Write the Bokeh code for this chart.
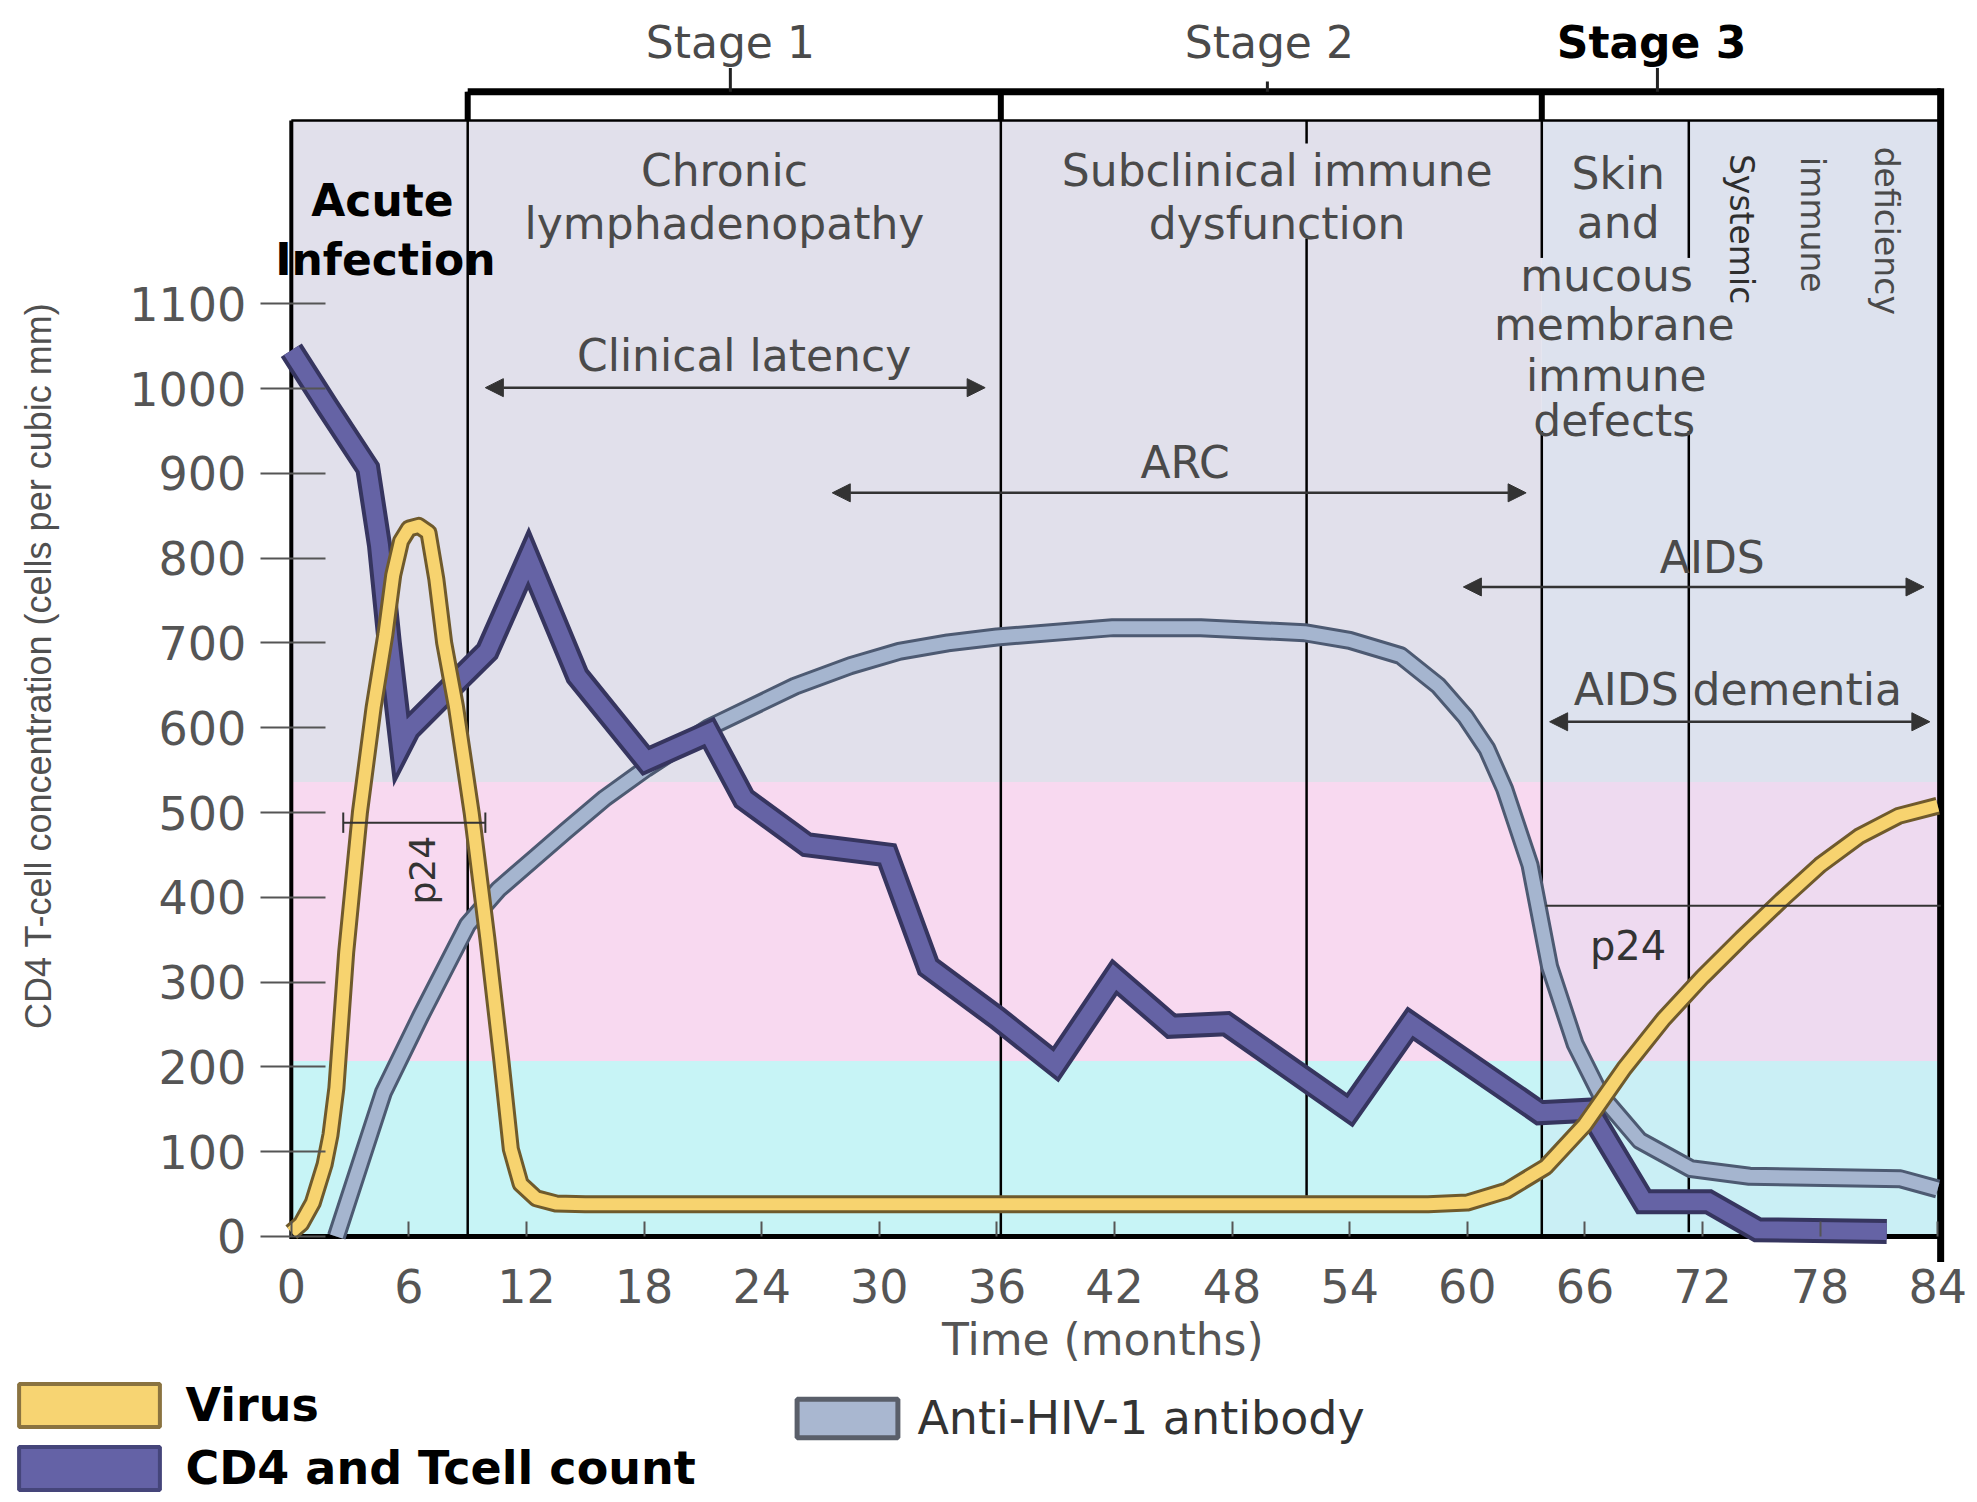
import math
from bokeh.plotting import figure
from bokeh.models import Range1d, FixedTicker, Label, Arrow, NormalHead, Legend, LegendItem
from bokeh.embed import file_html
from bokeh.resources import INLINE

# ---------------- data ----------------
virus_month = [0, 0.5, 1.1, 1.7, 2.0, 2.3, 2.8, 3.5, 4.2, 4.8, 5.2, 5.6, 6.0, 6.5, 7.0, 7.4,
               7.8, 8.4, 9.2, 10.0, 10.7, 11.2, 11.7, 12.5, 13.5, 15, 18, 24, 36, 48, 58,
               60, 62, 64, 66, 68, 70, 72, 74, 76, 78, 80, 82, 84]
virus_value = [5, 15, 40, 85, 120, 175, 335, 500, 624, 710, 780, 820, 835, 838, 830, 775,
               700, 625, 500, 352, 211, 103, 62, 45, 39, 38, 38, 38, 38, 38, 38,
               40, 54, 82, 132, 198, 256, 306, 352, 396, 438, 472, 496, 508]

cd4_month = [0, 1.8, 3.9, 4.5, 5.0, 5.6, 6.0, 8.6, 10.0, 12.1, 14.6, 18.1, 21.3, 23.1, 26.3,
             30.4, 32.5, 36.0, 39.0, 42.0, 44.9, 47.7, 54.0, 57.1, 63.7, 66.2, 69.0, 72.3,
             74.8, 81.4]
cd4_value = [1045, 980, 906, 815, 700, 580, 598, 658, 690, 800, 661, 561, 594, 516, 462,
             450, 318, 258, 203, 306, 248, 251, 149, 251, 146, 149, 41, 41,
             8, 6]

antibody_month = [2.3, 3.5, 4.7, 6.6, 9.0, 10.6, 12.5, 14.0, 16.0, 18.1, 21.3, 25.7, 28.5,
                  31.0, 33.5, 36.0, 41.9, 46.4, 51.7, 54.0, 56.6, 58.5, 59.9, 61.0, 61.9,
                  63.2, 64.2, 65.5, 66.8, 68.8, 71.4, 74.4, 82.1, 84.0]
antibody_value = [0, 85, 170, 260, 368, 410, 448, 478, 517, 552, 600, 649, 673,
                  690, 700, 707, 718, 718, 712, 703, 685, 650, 613, 575, 528,
                  438, 318, 227, 167, 113, 80, 71, 68, 56]

x_ticks = [0, 6, 12, 18, 24, 30, 36, 42, 48, 54, 60, 66, 72, 78, 84]
y_ticks = [0, 100, 200, 300, 400, 500, 600, 700, 800, 900, 1000, 1100]
band_edges = [0, 207, 536, 1316]          # cyan / pink / grey zones (cells per mm3)
stage_labels = ["Stage 1", "Stage 2", "Stage 3"]
stage_edges = [9.0, 36.2, 63.8, 84.15]     # months
series_names = ["Virus", "CD4 and Tcell count", "Anti-HIV-1 antibody"]

# ---------------- figure: the frame covers the whole page ----------------
p = figure(width=1977, height=1502, x_range=Range1d(-14.837, 86.03), y_range=Range1d(-313.7, 1434),
           output_backend="svg", toolbar_location=None,
           min_border_left=0, min_border_right=0, min_border_top=20, min_border_bottom=0)
p.grid.visible = False
p.outline_line_color = None
p.background_fill_color = "white"
p.border_fill_color = "white"

# x axis, pinned at y = 0
p.xaxis.fixed_location = 0
p.xaxis.ticker = FixedTicker(ticks=x_ticks)
p.xaxis.axis_line_color = None
p.xaxis.major_tick_in = 15
p.xaxis.major_tick_out = 0
p.xaxis.major_tick_line_color = "#555555"
p.xaxis.major_tick_line_width = 2
p.xaxis.minor_tick_line_color = None
p.xaxis.major_label_text_font = "DejaVu Sans"
p.xaxis.major_label_text_font_size = "46px"
p.xaxis.major_label_text_color = "#555555"
p.xaxis.major_label_standoff = 33

# y axis, pinned at x = 0
p.yaxis.fixed_location = 0
p.yaxis.ticker = FixedTicker(ticks=y_ticks)
p.yaxis.axis_line_color = None
p.yaxis.major_tick_in = 34
p.yaxis.major_tick_out = 31
p.yaxis.major_tick_line_color = "#555555"
p.yaxis.major_tick_line_width = 2
p.yaxis.minor_tick_line_color = None
p.yaxis.major_label_text_font = "DejaVu Sans"
p.yaxis.major_label_text_font_size = "46px"
p.yaxis.major_label_text_color = "#555555"
p.yaxis.major_label_standoff = 14

# background zones
left_cols = ["#c7f4f6", "#f8d9f0", "#e1e0eb"]
right_cols = ["#caeff5", "#eedaf0", "#dde2ee"]
p.quad(left=[0] * 3, right=[stage_edges[2]] * 3, bottom=band_edges[:-1], top=band_edges[1:],
       fill_color=left_cols, line_color=None)
p.quad(left=[stage_edges[2]] * 3, right=[stage_edges[3]] * 3, bottom=band_edges[:-1],
       top=band_edges[1:], fill_color=right_cols, line_color=None)

top_bg = band_edges[-1]
box_top = 1350

# thin phase lines (with gaps where text sits)
seg_x = [9.0, 36.2, 51.8, 51.8, 63.8, 63.8, 71.3, 71.3]
seg_y0 = [0, 0, 48, 1289, 0, 1154, 5, 1154]
seg_y1 = [box_top, box_top, 1177, top_bg, 950, box_top, 950, top_bg]
p.segment(x0=seg_x, y0=seg_y0, x1=seg_x, y1=seg_y1, line_color="black", line_width=2.5)

# axis lines and top border of the background
p.segment(x0=[0], y0=[-3], x1=[0], y1=[top_bg], line_color="black", line_width=4)
p.segment(x0=[0], y0=[0], x1=[stage_edges[3]], y1=[0], line_color="black", line_width=5)
p.segment(x0=[0], y0=[top_bg], x1=[stage_edges[3]], y1=[top_bg], line_color="black", line_width=2.5)

# stage box
p.segment(x0=[stage_edges[0]], y0=[box_top], x1=[stage_edges[3]], y1=[box_top],
          line_color="black", line_width=7)
p.segment(x0=stage_edges[:3], y0=[top_bg] * 3, x1=stage_edges[:3], y1=[box_top] * 3,
          line_color="black", line_width=6)
p.segment(x0=[stage_edges[3]], y0=[box_top + 4], x1=[stage_edges[3]], y1=[-30],
          line_color="black", line_width=7)
p.segment(x0=[22.4, 49.8, 69.7], y0=[box_top] * 3, x1=[22.4, 49.8, 69.7],
          y1=[1378, 1362, 1378], line_color="#222222", line_width=3)

# curves: dark outline + coloured core
def band(xs, ys, outline, fill, w_out, w_in, join):
    p.line(xs, ys, line_color=outline, line_width=w_out, line_join=join)
    p.line(xs, ys, line_color=fill, line_width=w_in, line_join=join)

band(antibody_month, antibody_value, "#4d5a72", "#a5b5cf", 19, 13, "round")
band(cd4_month, cd4_value, "#36355f", "#6563a5", 25, 17, "miter")
band(virus_month, virus_value, "#6f5a2c", "#f7d36f", 18, 12, "round")

# p24 markers
p.segment(x0=[2.65, 64.0], y0=[488, 390], x1=[9.9, 84.15], y1=[488, 390],
          line_color="#333333", line_width=2)
p.segment(x0=[2.65, 9.9], y0=[476, 476], x1=[2.65, 9.9], y1=[500, 500],
          line_color="#333333", line_width=2)

# arrows
def darrow(x0, x1, y):
    hs = dict(size=18, fill_color="#333333", line_color="#333333")
    p.add_layout(Arrow(x_start=x0, y_start=y, x_end=x1, y_end=y,
                       start=NormalHead(**hs), end=NormalHead(**hs),
                       line_color="#333333", line_width=2.5))

darrow(9.9, 35.4, 1001)
darrow(27.6, 63.0, 877)
darrow(59.8, 83.3, 766)
darrow(64.2, 83.6, 607)

# texts
def lab(x, y, text, size, color="#4a4a4a", font="DejaVu Sans", style="normal", angle=0.0):
    p.add_layout(Label(x=x, y=y, text=text, text_font=font, text_font_size=f"{size}px",
                       text_color=color, text_font_style=style, text_align="center",
                       text_baseline="middle", angle=angle))

# axis titles
lab(-12.9, 673, "CD4 T-cell concentration (cells per cubic mm)", 36, color="#505050",
    font="Liberation Sans", angle=math.pi / 2)
lab(41.4, -121, "Time (months)", 44, color="#555555")

lab(22.4, 1408, stage_labels[0], 44)
lab(49.9, 1408, stage_labels[1], 44)
lab(69.4, 1408, stage_labels[2], 44, color="black", style="bold")

lab(4.65, 1222, "Acute", 44, color="black", style="bold")
lab(4.8, 1152, "Infection", 44, color="black", style="bold")
lab(22.1, 1257, "Chronic", 44)
lab(22.1, 1195, "lymphadenopathy", 44)
lab(50.3, 1257, "Subclinical immune", 44)
lab(50.3, 1195, "dysfunction", 44)
lab(67.7, 1253, "Skin", 44)
lab(67.7, 1196, "and", 44)
lab(67.1, 1133, "mucous", 44)
lab(67.5, 1076, "membrane", 44)
lab(67.6, 1015, "immune", 44)
lab(67.5, 962, "defects", 44)
lab(74.0, 1188, "Systemic", 33, color="#2e2e2e", angle=-math.pi / 2)
lab(77.6, 1193, "immune", 33, angle=-math.pi / 2)
lab(81.4, 1186, "deficiency", 33, angle=-math.pi / 2)

lab(23.1, 1039, "Clinical latency", 44)
lab(45.6, 913, "ARC", 44)
lab(72.5, 801, "AIDS", 44)
lab(73.8, 645, "AIDS dementia", 44)
lab(6.7, 432, "p24", 36, color="#333333", angle=math.pi / 2)
lab(68.2, 343, "p24", 40, color="#333333")

# ---------------- legend (below the axes) ----------------
# proxy swatch renderers, placed far outside the visible ranges
sw_virus = p.quad(left=[-1000], right=[-999], top=[-1000], bottom=[-1001], fill_color="#f7d472",
                  line_color="#8a7340", line_width=4)
sw_cd4 = p.quad(left=[-1000], right=[-999], top=[-1000], bottom=[-1001], fill_color="#6462a6",
                line_color="#45457a", line_width=4)
sw_ab = p.quad(left=[-1000], right=[-999], top=[-1000], bottom=[-1001], fill_color="#a9b7d0",
               line_color="#5a5f6a", line_width=5)

leg1 = Legend(items=[LegendItem(label=series_names[0], renderers=[sw_virus], index=0),
                     LegendItem(label=series_names[1], renderers=[sw_cd4], index=0)],
              location=(1.4, 7), orientation="vertical",
              glyph_width=176, glyph_height=54, spacing=9, label_standoff=8,
              padding=0, margin=0, border_line_color=None, background_fill_alpha=0,
              label_text_font="DejaVu Sans", label_text_font_style="bold",
              label_text_font_size="46px", label_text_color="black")
leg2 = Legend(items=[LegendItem(label=series_names[2], renderers=[sw_ab], index=0)],
              location=(784.4, 57), orientation="vertical",
              glyph_width=126, glyph_height=48, spacing=0, label_standoff=7,
              padding=0, margin=0, border_line_color=None, background_fill_alpha=0,
              label_text_font="DejaVu Sans", label_text_font_size="46px",
              label_text_color="#333333")
p.add_layout(leg1, "center")
p.add_layout(leg2, "center")

open("out.html", "w").write(file_html(p, INLINE))
